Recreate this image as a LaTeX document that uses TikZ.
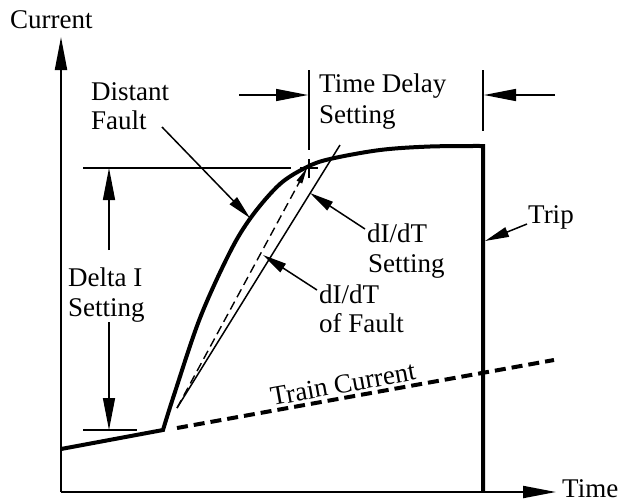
\documentclass[tikz,border=0pt]{standalone}
\usepackage{fontspec}
\setmainfont{Liberation Serif}
\usetikzlibrary{arrows.meta}
\tikzset{
  lbl/.style={font=\fontsize{27}{30}\selectfont, inner sep=0pt, anchor=base west},
  axis/.style={line width=2pt, -{Triangle[length=33pt,width=12pt]}},
  dimarrow/.style={line width=1.5pt, -{Triangle[length=32pt,width=12pt]}},
  ptr/.style={line width=1.5pt, -{Triangle[length=24pt,width=10pt]}},
  thin/.style={line width=1.5pt},
  heavy/.style={line width=4pt},
}
\begin{document}
\begin{tikzpicture}[x=1pt,y=-1pt]
\useasboundingbox (0,0) rectangle (629,499);
% axes
\coordinate (O) at (61,492);
\coordinate (ytop) at (61,37);
\coordinate (xend) at (556,492);
\draw[axis] (O) -- (ytop);
\draw[axis] (O) -- (xend);
\node[lbl] (cur) at (10,28) {Current};
\node[lbl] (time) at (562,497) {Time};

% train current
\coordinate (tr1) at (177,428);
\coordinate (tr2) at (554,360);
\draw[heavy, dash pattern=on 11pt off 6pt] (tr1) -- (tr2);
\node[font=\fontsize{27}{30}\selectfont, inner sep=0pt, rotate=10.3] (train) at (343,384) {Train Current};

% fault current curve and trip
\coordinate (c0) at (61,449);
\coordinate (kink) at (163,430);
\coordinate (tripbot) at (483,492);
\draw[heavy, line join=miter] (c0) -- (kink) -- plot[smooth, tension=0.55] coordinates {(163,430) (174,395) (200,318) (230,252) (252,216) (280,184) (307,167) (330,159) (380,150) (430,146.5) (483,146)} -- (tripbot);

% dI/dT lines
\coordinate (d0) at (177,408);
\coordinate (dtip) at (307,168);
\coordinate (s1) at (340,145);
\draw[line width=1.4pt, dash pattern=on 9pt off 5pt, -{Triangle[length=16pt,width=6pt]}] (d0) -- (dtip);
\draw[thin] (d0) -- (s1);

% delta I setting
\coordinate (h1a) at (83,168);
\coordinate (h1b) at (291,168);
\coordinate (h2a) at (83,430);
\coordinate (h2b) at (137,430);
\draw[thin] (h1a) -- (h1b);
\draw[thin] (300,168) -- (318,168);
\draw[thin] (h2a) -- (h2b);
\node[lbl] (dI1) at (68,286) {Delta I};
\node[lbl] (dI2) at (68,316) {Setting};
\coordinate (da1) at (109,250);
\coordinate (da2) at (109,322);
\draw[dimarrow] (da1) -- (109,168);
\draw[dimarrow] (da2) -- (109,430);

% time delay setting
\draw[thin] (309,70) -- (309,150);
\draw[thin] (309,159) -- (309,178);
\draw[thin] (483,70) -- (483,131);
\coordinate (ta1) at (239,95);
\coordinate (ta2) at (555,95);
\draw[dimarrow] (ta1) -- (308,95);
\draw[dimarrow] (ta2) -- (484,95);
\node[lbl] (td1) at (319,92) {Time Delay};
\node[lbl] (td2) at (319,123) {Setting};

% distant fault
\node[lbl] (df1) at (91,100) {Distant};
\node[lbl] (df2) at (91,129) {Fault};
\coordinate (dfs) at (162,127);
\draw[ptr] (dfs) -- (250,218);

% dI/dT setting
\node[lbl] (ds1) at (367,242) {dI/dT};
\node[lbl] (ds2) at (368,272) {Setting};
\coordinate (dss) at (365,229);
\draw[ptr] (dss) -- (310,193);

% dI/dT of fault
\node[lbl] (df3) at (319,303) {dI/dT};
\node[lbl] (df4) at (319,332) {of Fault};
\coordinate (dfs2) at (317,290);
\draw[ptr] (dfs2) -- (263,255);

% trip
\node[lbl] (trip) at (528,223) {Trip};
\coordinate (trs) at (527,224);
\draw[ptr] (trs) -- (485,241);
\end{tikzpicture}
\end{document}
